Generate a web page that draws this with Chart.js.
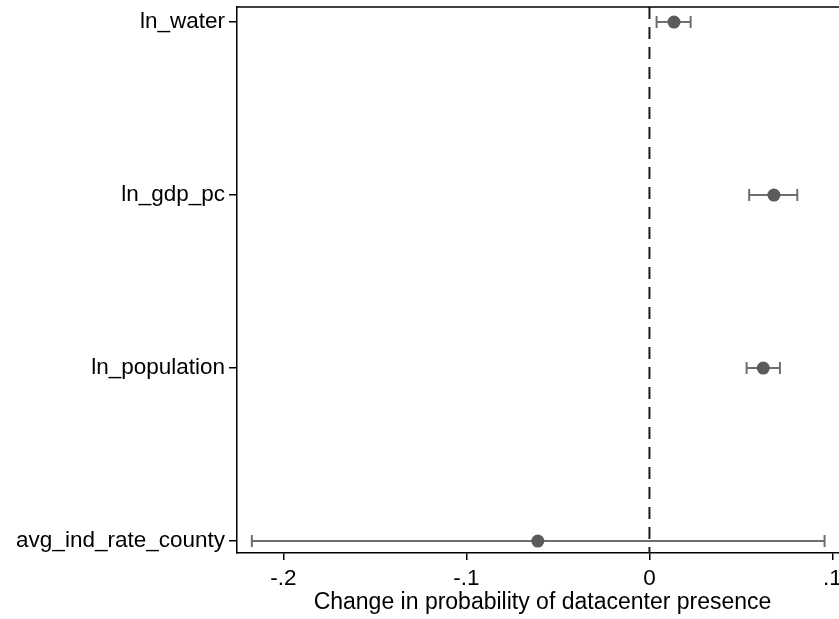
<!DOCTYPE html>
<html>
<head>
<meta charset="utf-8">
<script src="https://cdn.jsdelivr.net/npm/chart.js@4.4.1/dist/chart.umd.min.js"></script>
<style>
  html, body { margin: 0; padding: 0; background: #fff; overflow: hidden; }
  #wrap { width: 860px; height: 619px; }
</style>
</head>
<body>
<div id="wrap"><canvas id="c" width="860" height="619"></canvas></div>
<script>
// ---- data ----
const categories = ['ln_water', 'ln_gdp_pc', 'ln_population', 'avg_ind_rate_county'];
const estimates  = [0.0134, 0.0680, 0.0622, -0.0610];
const lowerCI    = [0.0039, 0.0545, 0.0531, -0.2173];
const upperCI    = [0.0225, 0.0808, 0.0713, 0.0957];
const xTickValues = [-0.2, -0.1, 0, 0.1];
const xTickLabels = ['-.2', '-.1', '0', '.1'];
const xTitle = 'Change in probability of datacenter presence';

const FONT = '"Liberation Sans", Arial, Helvetica, sans-serif';

const errorBars = {
  id: 'errorBars',
  beforeDatasetsDraw(chart) {
    const { ctx, chartArea, scales: { x, y } } = chart;
    ctx.save();
    // zero reference line
    const x0 = x.getPixelForValue(0);
    ctx.strokeStyle = '#1a1a1a';
    ctx.lineWidth = 2;
    ctx.setLineDash([12, 8]);
    ctx.beginPath();
    ctx.moveTo(x0, chartArea.top);
    ctx.lineTo(x0, chartArea.bottom);
    ctx.stroke();
    ctx.setLineDash([]);
    // CI bars
    ctx.strokeStyle = '#6e6e6e';
    ctx.lineWidth = 2;
    for (let i = 0; i < categories.length; i++) {
      const py = y.getPixelForValue(i);
      const pl = x.getPixelForValue(lowerCI[i]);
      const pu = x.getPixelForValue(upperCI[i]);
      ctx.beginPath();
      ctx.moveTo(pl, py); ctx.lineTo(pu, py);
      ctx.moveTo(pl, py - 6); ctx.lineTo(pl, py + 6);
      ctx.moveTo(pu, py - 6); ctx.lineTo(pu, py + 6);
      ctx.stroke();
    }
    ctx.restore();
  },
  afterDraw(chart) {
    const { ctx, chartArea } = chart;
    ctx.save();
    ctx.strokeStyle = '#000';
    ctx.lineWidth = 1.5;
    ctx.beginPath();
    ctx.moveTo(chartArea.left, chartArea.top);
    ctx.lineTo(chartArea.right, chartArea.top);
    ctx.lineTo(chartArea.right, chartArea.bottom);
    ctx.stroke();
    ctx.restore();
  }
};

new Chart(document.getElementById('c'), {
  type: 'scatter',
  data: {
    datasets: [{
      data: estimates.map((v, i) => ({ x: v, y: i })),
      pointRadius: 6.5,
      pointHoverRadius: 6.5,
      pointBackgroundColor: '#5b5b5b',
      pointBorderColor: '#5b5b5b',
      pointBorderWidth: 0
    }]
  },
  options: {
    responsive: false,
    animation: false,
    devicePixelRatio: 1,
    layout: { padding: { left: 0, right: 12, top: 7, bottom: 0 } },
    plugins: { legend: { display: false }, tooltip: { enabled: false } },
    scales: {
      x: {
        type: 'linear',
        min: -0.2254,
        max: 0.1085,
        afterBuildTicks(s) { s.ticks = xTickValues.map(v => ({ value: v })); },
        afterFit(s) { s.height = 66; s.paddingLeft = 0; s.paddingRight = 0; },
        border: { display: true, color: '#000', width: 1.5 },
        grid: { drawOnChartArea: false, drawTicks: true, tickLength: 7, color: '#000', lineWidth: 1.5 },
        ticks: {
          color: '#000',
          padding: 5,
          maxRotation: 0,
          font: { family: FONT, size: 22.5 },
          callback(v) { const k = xTickValues.findIndex(t => Math.abs(t - v) < 1e-9); return k >= 0 ? xTickLabels[k] : ''; }
        },
        title: {
          display: true,
          text: xTitle,
          color: '#000',
          font: { family: FONT, size: 23 },
          padding: { top: 0, bottom: 3 }
        }
      },
      y: {
        type: 'linear',
        reverse: true,
        min: -0.087,
        max: 3.069,
        afterBuildTicks(s) { s.ticks = categories.map((c, i) => ({ value: i })); },
        afterFit(s) { s.width = 237; s.paddingTop = 0; s.paddingBottom = 0; },
        border: { display: true, color: '#000', width: 1.5 },
        grid: { drawOnChartArea: false, drawTicks: true, tickLength: 8, color: '#000', lineWidth: 1.5 },
        ticks: {
          color: '#000',
          padding: 4,
          font: { family: FONT, size: 22.5 },
          callback(v) { return categories[Math.round(v)] ?? ''; }
        }
      }
    }
  },
  plugins: [errorBars]
});
</script>
</body>
</html>
